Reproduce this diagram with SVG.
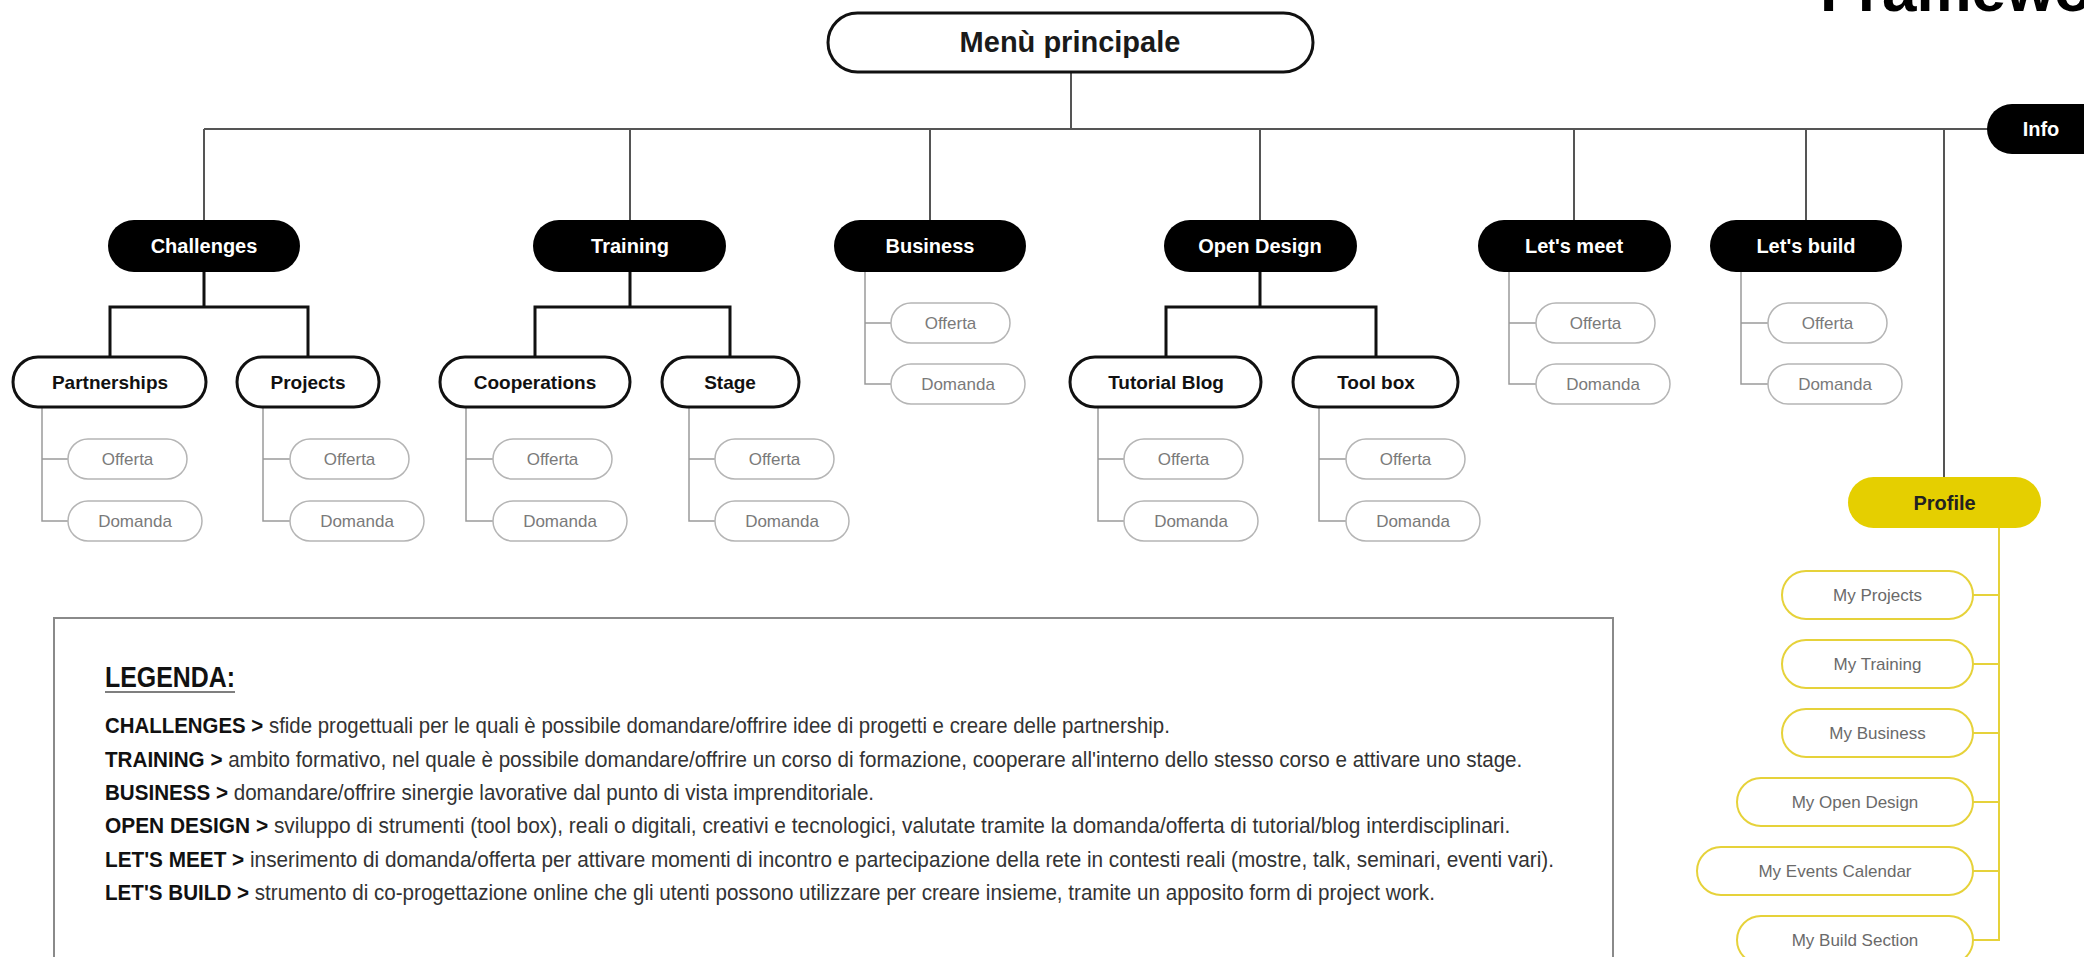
<svg xmlns="http://www.w3.org/2000/svg" width="2084" height="957" viewBox="0 0 2084 957">
<style>
text{font-family:"Liberation Sans",Arial,sans-serif}
.root{fill:#fff;stroke:#111;stroke-width:3}
.l1{fill:#000;stroke:none}
.l2{fill:#fff;stroke:#111;stroke-width:3}
.sub{fill:#fff;stroke:#b5b5b5;stroke-width:1.5}
.ysub{fill:#fff;stroke:#e6d23a;stroke-width:2}
.prof{fill:#e5cf00;stroke:none}
.t-root{font-size:29px;font-weight:bold;fill:#1a1a1a;text-anchor:middle}
.t-l1{font-size:20px;font-weight:bold;fill:#fff;text-anchor:middle}
.t-l2{font-size:19px;font-weight:bold;fill:#111;text-anchor:middle}
.t-sub{font-size:17px;fill:#7a7a7a;text-anchor:middle}
.t-ysub{font-size:17px;fill:#6a6a6a;text-anchor:middle}
.t-prof{font-size:20px;font-weight:bold;fill:#222;text-anchor:middle}
.c-main{fill:none;stroke:#555;stroke-width:2}
.c-l2{fill:none;stroke:#111;stroke-width:3}
.c-sub{fill:none;stroke:#9a9a9a;stroke-width:1.5}
.c-y{fill:none;stroke:#e6d23a;stroke-width:2}
.leg{font-size:23px;fill:#333}
.leg tspan.k{font-weight:bold;fill:#111}
</style>

<text x="1820" y="11" font-size="62" font-weight="bold" fill="#000">Framework</text>

<g id="connectors">
  <path class="c-main" d="M1071 72 V129 M204 129 H1990 M204 129 V220 M630 129 V220 M930 129 V220 M1260 129 V220 M1574 129 V220 M1806 129 V220 M1944 129 V477"/>
  <path class="c-l2" d="M204 272 V307 M110 357 V307 H308 V357"/>
  <path class="c-l2" d="M630 272 V307 M535 357 V307 H730 V357"/>
  <path class="c-l2" d="M1260 272 V307 M1166 357 V307 H1376 V357"/>
  <path class="c-sub" d="M42 407 V521 H68 M42 459 H68"/>
  <path class="c-sub" d="M263 407 V521 H290 M263 459 H290"/>
  <path class="c-sub" d="M466 407 V521 H493 M466 459 H493"/>
  <path class="c-sub" d="M689 407 V521 H715 M689 459 H715"/>
  <path class="c-sub" d="M1098 407 V521 H1124 M1098 459 H1124"/>
  <path class="c-sub" d="M1319 407 V521 H1346 M1319 459 H1346"/>
  <path class="c-sub" d="M865 272 V384 H891 M865 323 H891"/>
  <path class="c-sub" d="M1509 272 V384 H1536 M1509 323 H1536"/>
  <path class="c-sub" d="M1741 272 V384 H1768 M1741 323 H1768"/>
  <path class="c-y" d="M1999 528 V940 H1973 M1973 595 H1999 M1973 664 H1999 M1973 733 H1999 M1973 802 H1999 M1973 871 H1999"/>
</g>

<g id="menu-principale"><rect class="root" x="828" y="13" width="485" height="59" rx="29.5"/><text class="t-root" x="1070" y="52">Menù principale</text></g>
<g id="info"><rect class="l1" x="1987" y="104" width="140" height="50" rx="25"/><text class="t-l1" x="2041" y="136">Info</text></g>

<g id="challenges"><rect class="l1" x="108" y="220" width="192" height="52" rx="26"/><text class="t-l1" x="204" y="253">Challenges</text></g>
<g id="training"><rect class="l1" x="533" y="220" width="193" height="52" rx="26"/><text class="t-l1" x="630" y="253">Training</text></g>
<g id="business"><rect class="l1" x="834" y="220" width="192" height="52" rx="26"/><text class="t-l1" x="930" y="253">Business</text></g>
<g id="open-design"><rect class="l1" x="1164" y="220" width="193" height="52" rx="26"/><text class="t-l1" x="1260" y="253">Open Design</text></g>
<g id="lets-meet"><rect class="l1" x="1478" y="220" width="193" height="52" rx="26"/><text class="t-l1" x="1574" y="253">Let's meet</text></g>
<g id="lets-build"><rect class="l1" x="1710" y="220" width="192" height="52" rx="26"/><text class="t-l1" x="1806" y="253">Let's build</text></g>

<g id="partnerships"><rect class="l2" x="13" y="357" width="193" height="50" rx="25"/><text class="t-l2" x="110" y="389">Partnerships</text></g>
<g id="projects"><rect class="l2" x="237" y="357" width="142" height="50" rx="25"/><text class="t-l2" x="308" y="389">Projects</text></g>
<g id="cooperations"><rect class="l2" x="440" y="357" width="190" height="50" rx="25"/><text class="t-l2" x="535" y="389">Cooperations</text></g>
<g id="stage"><rect class="l2" x="662" y="357" width="137" height="50" rx="25"/><text class="t-l2" x="730" y="389">Stage</text></g>
<g id="tutorial-blog"><rect class="l2" x="1070" y="357" width="191" height="50" rx="25"/><text class="t-l2" x="1166" y="389">Tutorial Blog</text></g>
<g id="tool-box"><rect class="l2" x="1293" y="357" width="165" height="50" rx="25"/><text class="t-l2" x="1376" y="389">Tool box</text></g>

<g id="partnerships-offerta"><rect class="sub" x="68" y="439" width="119" height="40" rx="20"/><text class="t-sub" x="127.5" y="465">Offerta</text></g>
<g id="partnerships-domanda"><rect class="sub" x="68" y="501" width="134" height="40" rx="20"/><text class="t-sub" x="135" y="527">Domanda</text></g>
<g id="projects-offerta"><rect class="sub" x="290" y="439" width="119" height="40" rx="20"/><text class="t-sub" x="349.5" y="465">Offerta</text></g>
<g id="projects-domanda"><rect class="sub" x="290" y="501" width="134" height="40" rx="20"/><text class="t-sub" x="357" y="527">Domanda</text></g>
<g id="cooperations-offerta"><rect class="sub" x="493" y="439" width="119" height="40" rx="20"/><text class="t-sub" x="552.5" y="465">Offerta</text></g>
<g id="cooperations-domanda"><rect class="sub" x="493" y="501" width="134" height="40" rx="20"/><text class="t-sub" x="560" y="527">Domanda</text></g>
<g id="stage-offerta"><rect class="sub" x="715" y="439" width="119" height="40" rx="20"/><text class="t-sub" x="774.5" y="465">Offerta</text></g>
<g id="stage-domanda"><rect class="sub" x="715" y="501" width="134" height="40" rx="20"/><text class="t-sub" x="782" y="527">Domanda</text></g>
<g id="tutorial-offerta"><rect class="sub" x="1124" y="439" width="119" height="40" rx="20"/><text class="t-sub" x="1183.5" y="465">Offerta</text></g>
<g id="tutorial-domanda"><rect class="sub" x="1124" y="501" width="134" height="40" rx="20"/><text class="t-sub" x="1191" y="527">Domanda</text></g>
<g id="toolbox-offerta"><rect class="sub" x="1346" y="439" width="119" height="40" rx="20"/><text class="t-sub" x="1405.5" y="465">Offerta</text></g>
<g id="toolbox-domanda"><rect class="sub" x="1346" y="501" width="134" height="40" rx="20"/><text class="t-sub" x="1413" y="527">Domanda</text></g>

<g id="business-offerta"><rect class="sub" x="891" y="303" width="119" height="40" rx="20"/><text class="t-sub" x="950.5" y="329">Offerta</text></g>
<g id="business-domanda"><rect class="sub" x="891" y="364" width="134" height="40" rx="20"/><text class="t-sub" x="958" y="390">Domanda</text></g>
<g id="meet-offerta"><rect class="sub" x="1536" y="303" width="119" height="40" rx="20"/><text class="t-sub" x="1595.5" y="329">Offerta</text></g>
<g id="meet-domanda"><rect class="sub" x="1536" y="364" width="134" height="40" rx="20"/><text class="t-sub" x="1603" y="390">Domanda</text></g>
<g id="build-offerta"><rect class="sub" x="1768" y="303" width="119" height="40" rx="20"/><text class="t-sub" x="1827.5" y="329">Offerta</text></g>
<g id="build-domanda"><rect class="sub" x="1768" y="364" width="134" height="40" rx="20"/><text class="t-sub" x="1835" y="390">Domanda</text></g>

<g id="profile"><rect class="prof" x="1848" y="477" width="193" height="51" rx="25.5"/><text class="t-prof" x="1944.5" y="510">Profile</text></g>
<g id="my-projects"><rect class="ysub" x="1782" y="571" width="191" height="48" rx="24"/><text class="t-ysub" x="1877.5" y="601">My Projects</text></g>
<g id="my-training"><rect class="ysub" x="1782" y="640" width="191" height="48" rx="24"/><text class="t-ysub" x="1877.5" y="670">My Training</text></g>
<g id="my-business"><rect class="ysub" x="1782" y="709" width="191" height="48" rx="24"/><text class="t-ysub" x="1877.5" y="739">My Business</text></g>
<g id="my-open-design"><rect class="ysub" x="1737" y="778" width="236" height="48" rx="24"/><text class="t-ysub" x="1855" y="808">My Open Design</text></g>
<g id="my-events-calendar"><rect class="ysub" x="1697" y="847" width="276" height="48" rx="24"/><text class="t-ysub" x="1835" y="877">My Events Calendar</text></g>
<g id="my-build-section"><rect class="ysub" x="1737" y="916" width="236" height="48" rx="24"/><text class="t-ysub" x="1855" y="946">My Build Section</text></g>

<g id="legenda">
  <rect x="54" y="618" width="1559" height="400" fill="none" stroke="#8a8a8a" stroke-width="2"/>
  <text x="105" y="687" font-size="29" font-weight="bold" fill="#111" textLength="130" lengthAdjust="spacingAndGlyphs">LEGENDA:</text>
  <line x1="105" y1="692" x2="235" y2="692" stroke="#555" stroke-width="1.5"/>
  <text class="leg" transform="translate(105,733) scale(0.93,1)" x="0" y="0" textLength="1145" lengthAdjust="spacingAndGlyphs"><tspan class="k">CHALLENGES &gt;</tspan> sfide progettuali per le quali è possibile domandare/offrire idee di progetti e creare delle partnership.</text>
  <text class="leg" transform="translate(105,767) scale(0.93,1)" x="0" y="0" textLength="1524" lengthAdjust="spacingAndGlyphs"><tspan class="k">TRAINING &gt;</tspan> ambito formativo, nel quale è possibile domandare/offrire un corso di formazione, cooperare all'interno dello stesso corso e attivare uno stage.</text>
  <text class="leg" transform="translate(105,800) scale(0.93,1)" x="0" y="0" textLength="827" lengthAdjust="spacingAndGlyphs"><tspan class="k">BUSINESS &gt;</tspan> domandare/offrire sinergie lavorative dal punto di vista imprenditoriale.</text>
  <text class="leg" transform="translate(105,833) scale(0.93,1)" x="0" y="0" textLength="1511" lengthAdjust="spacingAndGlyphs"><tspan class="k">OPEN DESIGN &gt;</tspan> sviluppo di strumenti (tool box), reali o digitali, creativi e tecnologici, valutate tramite la domanda/offerta di tutorial/blog interdisciplinari.</text>
  <text class="leg" transform="translate(105,867) scale(0.93,1)" x="0" y="0" textLength="1558" lengthAdjust="spacingAndGlyphs"><tspan class="k">LET'S MEET &gt;</tspan> inserimento di domanda/offerta per attivare momenti di incontro e partecipazione della rete in contesti reali (mostre, talk, seminari, eventi vari).</text>
  <text class="leg" transform="translate(105,900) scale(0.93,1)" x="0" y="0" textLength="1430" lengthAdjust="spacingAndGlyphs"><tspan class="k">LET'S BUILD &gt;</tspan> strumento di co-progettazione online che gli utenti possono utilizzare per creare insieme, tramite un apposito form di project work.</text>
</g>
</svg>
